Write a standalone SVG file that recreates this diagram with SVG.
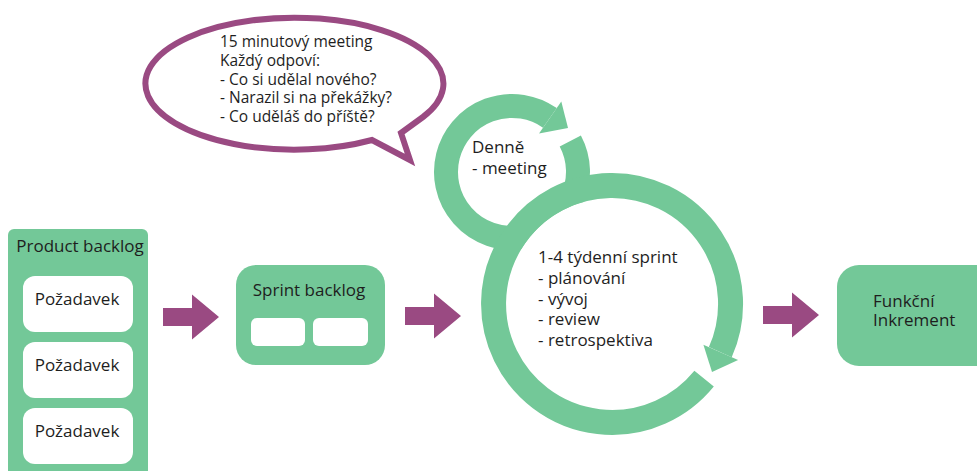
<svg xmlns="http://www.w3.org/2000/svg" width="977" height="471" viewBox="0 0 977 471">
  <style>
    .txt { font-family: "Open Sans", "Noto Sans", "DejaVu Sans", sans-serif; font-size: 17px; fill: #1e1e1e; }
    .note { font-size: 15.5px; }
    .mid { text-anchor: middle; }
    .green { fill: #73C898; }
    .card { fill: #FFFFFF; }
    .ring { fill: none; stroke: #73C898; }
    .flow { fill: #9A4A82; }
  </style>
  <defs>
    <!-- block arrow, origin at the tail centre -->
    <polygon id="blockArrow" points="0,-9 29,-9 29,-22.5 56,0 29,22.5 29,9 0,9"/>
  </defs>

  <!-- speech bubble -->
  <g id="bubble">
    <path d="M 372,140 A 149 66 0 1 1 423,117 L 401,133 L 410,160 Z" fill="#FFFFFF" stroke="#9A4A82" stroke-width="6" stroke-linejoin="miter"/>
    <text class="txt note" x="220" y="47">15 minutový meeting</text>
    <text class="txt note" x="220" y="66">Každý odpoví:</text>
    <text class="txt note" x="220" y="84.5">- Co si udělal nového?</text>
    <text class="txt note" x="220" y="103">- Narazil si na překážky?</text>
    <text class="txt note" x="220" y="122">- Co uděláš do příště?</text>
  </g>

  <!-- daily cycle -->
  <g id="daily-cycle">
    <path class="ring" stroke-width="24" d="M 570.3,141.0 A 66 66 0 1 1 549.9,117.9"/>
    <polygon class="green" points="539,133.5 561.3,101.6 568,128"/>
    <text class="txt" x="472" y="153">Denně</text>
    <text class="txt" x="472" y="174">- meeting</text>
  </g>

  <!-- sprint cycle -->
  <g id="sprint-cycle">
    <circle cx="612" cy="304" r="106" fill="#FFFFFF"/>
    <path class="ring" stroke-width="25" d="M 704.1,378.6 A 118.5 118.5 0 1 1 720.3,352.2"/>
    <polygon class="green" points="703.4,344.7 738.1,360.1 712,372"/>
    <text class="txt" x="538" y="263">1-4 týdenní sprint</text>
    <text class="txt" x="538" y="284">- plánování</text>
    <text class="txt" x="538" y="304.5">- vývoj</text>
    <text class="txt" x="538" y="325">- review</text>
    <text class="txt" x="538" y="345.5">- retrospektiva</text>
  </g>

  <!-- product backlog -->
  <g id="product-backlog">
    <rect class="green" x="8" y="229" width="140" height="260" rx="6"/>
    <text class="txt mid" x="80" y="252">Product backlog</text>
    <rect class="card" x="23" y="276" width="110" height="56" rx="12"/>
    <text class="txt mid" x="77" y="305">Požadavek</text>
    <rect class="card" x="23" y="342" width="110" height="56" rx="12"/>
    <text class="txt mid" x="77" y="371">Požadavek</text>
    <rect class="card" x="23" y="408" width="110" height="56" rx="12"/>
    <text class="txt mid" x="77" y="437">Požadavek</text>
  </g>

  <!-- sprint backlog -->
  <g id="sprint-backlog">
    <rect class="green" x="236" y="265" width="149" height="100" rx="20"/>
    <text class="txt mid" x="309" y="296">Sprint backlog</text>
    <rect class="card" x="251" y="318" width="54" height="28" rx="6"/>
    <rect class="card" x="313" y="318" width="55" height="28" rx="6"/>
  </g>

  <!-- increment -->
  <g id="increment">
    <rect class="green" x="837" y="265" width="170" height="101" rx="22"/>
    <text class="txt" x="873" y="307">Funkční</text>
    <text class="txt" x="873" y="326">Inkrement</text>
  </g>

  <!-- connectors -->
  <g id="connectors" class="flow">
    <use href="#blockArrow" transform="translate(163,317)"/>
    <use href="#blockArrow" transform="translate(405,316)"/>
    <use href="#blockArrow" transform="translate(763,315)"/>
  </g>
</svg>
